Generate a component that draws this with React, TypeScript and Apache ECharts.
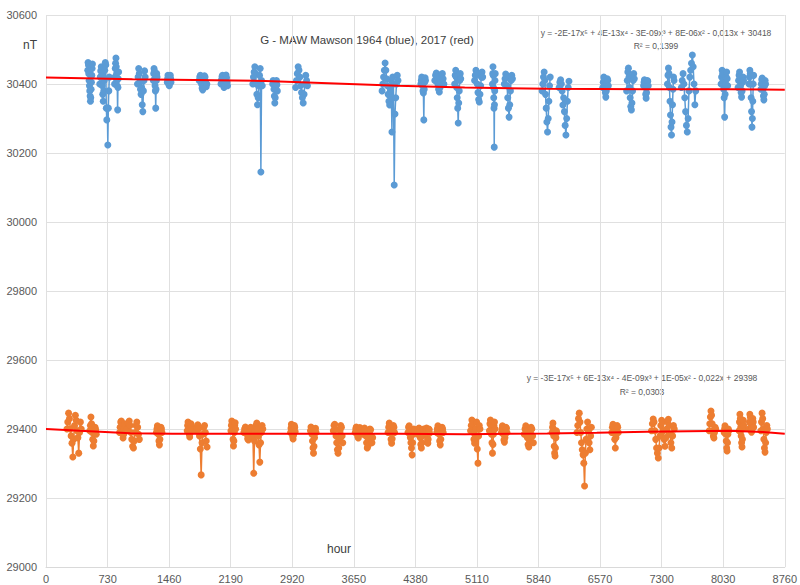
import React, { useEffect, useRef } from "react";
import * as echarts from "echarts";

// x ticks (hours) and y ticks (nT)
const xTicks = [0, 730, 1460, 2190, 2920, 3650, 4380, 5110, 5840, 6570, 7300, 8030, 8760];
const yTicks = [29000, 29200, 29400, 29600, 29800, 30000, 30200, 30400, 30600];

// Each cluster: [start hour, sampling step (hours), values in nT]
type Cluster = [number, number, number[]];

const blue1964: Cluster[] = [
  [495, 4, [30440, 30462, 30455, 30430, 30410, 30395, 30380, 30365, 30350, 30360, 30385, 30405, 30425, 30445, 30458]],
  [637, 6, [30400, 30420, 30438, 30450, 30425, 30395, 30370, 30350, 30380, 30410, 30440, 30462, 30455, 30330, 30296, 30330, 30223, 30330, 30380, 30420]],
  [813, 4, [30400, 30420, 30445, 30460, 30475, 30450, 30430, 30410, 30395, 30325, 30390, 30415, 30435]],
  [1085, 7, [30400, 30420, 30445, 30430, 30405, 30385, 30370, 30390, 30340, 30320, 30380, 30410, 30438, 30420]],
  [1273, 4, [30410, 30430, 30445, 30438, 30415, 30395, 30380, 30330, 30385, 30410, 30430, 30420]],
  [1438, 4, [30405, 30415, 30425, 30420, 30410, 30398, 30395, 30405, 30418, 30425, 30415, 30405]],
  [1816, 7, [30410, 30420, 30425, 30418, 30400, 30388, 30383, 30395, 30412, 30424, 30420, 30405, 30392, 30400]],
  [2075, 6, [30400, 30412, 30422, 30425, 30415, 30398, 30390, 30395, 30410, 30420, 30426, 30418, 30405, 30395]],
  [2452, 8, [30400, 30420, 30435, 30450, 30430, 30400, 30370, 30340, 30360, 30395, 30425, 30445, 30145, 30410, 30395]],
  [2688, 5, [30400, 30410, 30405, 30385, 30365, 30345, 30360, 30390, 30408, 30410, 30398, 30380]],
  [2960, 10, [30390, 30410, 30430, 30450, 30440, 30420, 30395, 30375, 30360, 30345, 30370, 30400, 30425, 30410, 30395]],
  [3985, 9, [30380, 30400, 30420, 30440, 30461, 30440, 30415, 30395, 30370, 30350, 30339, 30380, 30410, 30261, 30420, 30400, 30107, 30313, 30360, 30400, 30425, 30410]],
  [4445, 5, [30400, 30410, 30420, 30415, 30395, 30380, 30374, 30296, 30385, 30405, 30418, 30410]],
  [4610, 9, [30410, 30425, 30432, 30420, 30400, 30385, 30377, 30390, 30410, 30428, 30430, 30415, 30400]],
  [4846, 6, [30400, 30425, 30440, 30420, 30390, 30360, 30330, 30287, 30345, 30380, 30410, 30430, 30415]],
  [5082, 8, [30410, 30425, 30440, 30430, 30400, 30375, 30355, 30348, 30370, 30395, 30420, 30435, 30420]],
  [5294, 3, [30400, 30430, 30450, 30425, 30390, 30360, 30330, 30217, 30340, 30380, 30410, 30430]],
  [5435, 8, [30400, 30415, 30429, 30420, 30395, 30360, 30330, 30304, 30340, 30380, 30410, 30425, 30415]],
  [5883, 8, [30380, 30400, 30420, 30435, 30410, 30370, 30330, 30290, 30261, 30300, 30350, 30395, 30420]],
  [6084, 9, [30390, 30405, 30412, 30400, 30380, 30339, 30360, 30320, 30280, 30252, 30300, 30350, 30390, 30408]],
  [6602, 6, [30390, 30405, 30420, 30415, 30395, 30375, 30362, 30380, 30400, 30415, 30410, 30395]],
  [6885, 7, [30380, 30410, 30435, 30446, 30420, 30390, 30360, 30335, 30325, 30345, 30380, 30410, 30430, 30415]],
  [7086, 5, [30395, 30405, 30412, 30405, 30390, 30370, 30359, 30375, 30395, 30410, 30408, 30395]],
  [7369, 6, [30400, 30425, 30446, 30430, 30390, 30350, 30310, 30275, 30252, 30290, 30340, 30385, 30420, 30410]],
  [7534, 10, [30390, 30410, 30430, 30400, 30360, 30320, 30280, 30261, 30300, 30380, 30420, 30440, 30460, 30484, 30450, 30400, 30340, 30380]],
  [8005, 6, [30400, 30420, 30440, 30430, 30410, 30385, 30360, 30304, 30370, 30400, 30420, 30435, 30415, 30395]],
  [8206, 6, [30390, 30410, 30425, 30435, 30420, 30395, 30375, 30362, 30380, 30405, 30420, 30410]],
  [8336, 5, [30400, 30420, 30440, 30430, 30400, 30360, 30320, 30275, 30300, 30350, 30400, 30425]],
  [8477, 5, [30385, 30400, 30412, 30417, 30405, 30385, 30365, 30354, 30370, 30395, 30410, 30400]],
];

const orange2017: Cluster[] = [
  [248, 10, [29400, 29420, 29446, 29430, 29400, 29380, 29359, 29319, 29370, 29410, 29440, 29425, 29395, 29375, 29330, 29390, 29420, 29400]],
  [519, 7, [29395, 29410, 29435, 29415, 29390, 29370, 29351, 29365, 29390, 29405, 29398, 29385]],
  [872, 7, [29390, 29405, 29420, 29423, 29410, 29390, 29374, 29385, 29400, 29415, 29410, 29395]],
  [967, 10, [29400, 29415, 29423, 29410, 29390, 29370, 29350, 29345, 29365, 29390, 29410, 29420, 29405, 29385, 29370]],
  [1309, 6, [29390, 29400, 29409, 29400, 29385, 29365, 29354, 29370, 29390, 29405, 29400, 29390]],
  [1674, 5, [29395, 29410, 29420, 29415, 29400, 29385, 29377, 29388, 29402, 29415, 29410, 29398]],
  [1780, 10, [29395, 29405, 29412, 29400, 29380, 29342, 29267, 29360, 29385, 29405, 29410, 29390, 29365, 29348]],
  [2193, 5, [29395, 29410, 29423, 29415, 29395, 29370, 29351, 29365, 29390, 29410, 29418, 29400]],
  [2346, 9, [29390, 29400, 29406, 29398, 29385, 29372, 29368, 29380, 29395, 29405, 29400, 29385, 29375, 29272, 29365, 29395, 29410, 29417, 29400, 29380, 29354, 29304, 29360, 29390, 29410, 29400]],
  [2900, 5, [29390, 29402, 29414, 29408, 29392, 29378, 29371, 29382, 29398, 29410, 29405, 29392]],
  [3136, 6, [29395, 29406, 29400, 29385, 29365, 29345, 29330, 29350, 29375, 29395, 29402, 29390]],
  [3407, 8, [29395, 29410, 29414, 29400, 29380, 29360, 29340, 29330, 29345, 29370, 29395, 29410, 29405, 29380, 29360]],
  [3667, 6, [29390, 29400, 29406, 29400, 29388, 29378, 29374, 29382, 29395, 29404, 29400, 29390]],
  [3761, 8, [29385, 29395, 29403, 29398, 29380, 29360, 29345, 29350, 29370, 29390, 29400, 29398, 29380, 29360, 29375]],
  [4056, 7, [29390, 29405, 29417, 29408, 29390, 29370, 29359, 29372, 29395, 29410, 29405, 29390]],
  [4292, 7, [29390, 29405, 29409, 29395, 29375, 29360, 29345, 29325, 29360, 29385, 29400, 29395]],
  [4409, 7, [29385, 29395, 29403, 29395, 29375, 29355, 29345, 29360, 29380, 29398, 29400, 29390]],
  [4504, 4, [29385, 29395, 29403, 29398, 29385, 29368, 29359, 29370, 29388, 29400, 29398, 29388]],
  [4633, 7, [29390, 29400, 29409, 29400, 29385, 29365, 29354, 29370, 29390, 29405, 29400, 29390]],
  [5034, 8, [29395, 29410, 29426, 29415, 29390, 29370, 29359, 29375, 29400, 29420, 29342, 29301, 29380, 29410, 29400]],
  [5258, 6, [29395, 29415, 29426, 29410, 29385, 29360, 29330, 29355, 29385, 29410, 29420, 29400]],
  [5400, 6, [29390, 29400, 29409, 29400, 29385, 29368, 29362, 29375, 29392, 29405, 29402, 29390]],
  [5671, 9, [29385, 29400, 29409, 29395, 29375, 29355, 29348, 29365, 29390, 29405, 29400, 29380, 29360]],
  [6001, 5, [29390, 29405, 29417, 29400, 29380, 29350, 29330, 29322, 29345, 29375, 29395, 29390]],
  [6296, 9, [29390, 29410, 29430, 29446, 29420, 29390, 29360, 29340, 29325, 29301, 29235, 29330, 29370, 29400, 29420, 29395, 29360, 29340, 29380, 29405]],
  [6709, 7, [29390, 29405, 29414, 29405, 29390, 29370, 29345, 29375, 29395, 29410, 29405, 29390]],
  [7180, 10, [29395, 29415, 29429, 29420, 29395, 29370, 29345, 29330, 29316, 29345, 29380, 29410, 29425, 29420, 29395, 29370, 29350, 29375, 29400, 29420, 29428, 29410, 29385, 29360, 29345, 29380, 29410, 29400]],
  [7864, 7, [29395, 29415, 29435, 29452, 29440, 29415, 29395, 29380, 29374, 29390, 29405, 29400]],
  [8041, 5, [29390, 29400, 29409, 29400, 29385, 29365, 29345, 29336, 29360, 29385, 29400, 29395]],
  [8218, 5, [29395, 29420, 29443, 29430, 29405, 29380, 29360, 29348, 29370, 29400, 29425, 29410]],
  [8336, 5, [29400, 29420, 29443, 29435, 29415, 29400, 29391, 29398, 29415, 29430, 29420, 29405]],
  [8477, 7, [29395, 29420, 29446, 29430, 29400, 29370, 29345, 29333, 29360, 29390, 29410, 29400]],
];

// Trend lines: [hour, nT]
const blueTrend: [number, number][] = [
  [0, 30419], [1026, 30414], [2606, 30409], [4175, 30395], [4965, 30390],
  [5943, 30386], [7123, 30385], [8101, 30385], [8760, 30383],
];
const orangeTrend: [number, number][] = [
  [0, 29400], [400, 29395], [1000, 29388], [1500, 29386], [2606, 29386], [4175, 29386],
  [4965, 29385], [5943, 29387], [6531, 29389], [7123, 29392], [8101, 29395],
  [8500, 29391], [8760, 29386],
];

const blueEq = "y = -2E-17x\u2075 + 4E-13x\u2074 - 3E-09x\u00b3 + 8E-06x\u00b2 - 0,013x + 30418";
const blueR2 = "R\u00b2 = 0,1399";
const orangeEq = "y = -3E-17x\u2075 + 6E-13x\u2074 - 4E-09x\u00b3 + 1E-05x\u00b2 - 0,022x + 29398";
const orangeR2 = "R\u00b2 = 0,0303";
const titleText = "G - MAW Mawson 1964 (blue), 2017 (red)";

function toLineData(clusters: Cluster[]) {
  const out: any[] = [];
  clusters.forEach(([start, step, vals]) => {
    vals.forEach((v, i) => out.push([start + i * step, v]));
    out.push([start + vals.length * step, "-"]);
  });
  return out;
}

const FONT = "'Liberation Sans', Arial, sans-serif";

export default function App() {
  const ref = useRef<HTMLDivElement>(null);
  useEffect(() => {
    if (!ref.current) return;
    const chart = echarts.init(ref.current, undefined, { renderer: "svg" });
    const grey = "#595959";
    chart.setOption({
      animation: false,
      backgroundColor: "#ffffff",
      grid: { left: 46, right: 11, top: 15, bottom: 18, containLabel: false },
      xAxis: {
        type: "value",
        min: xTicks[0],
        max: xTicks[xTicks.length - 1],
        interval: 730,
        axisLine: { show: true, lineStyle: { color: "#D9D9D9" } },
        axisTick: { show: false },
        axisLabel: { color: grey, fontSize: 11, fontFamily: FONT, margin: 6, formatter: (v: number) => String(v) },
        splitLine: { show: true, lineStyle: { color: "#E0E0E0", width: 1 } },
      },
      yAxis: {
        type: "value",
        min: yTicks[0],
        max: yTicks[yTicks.length - 1],
        interval: 200,
        axisLine: { show: false },
        axisTick: { show: false },
        axisLabel: { color: grey, fontSize: 11, fontFamily: FONT, margin: 9, formatter: (v: number) => String(v) },
        splitLine: { show: true, lineStyle: { color: "#E0E0E0", width: 1 } },
      },
      series: [
        {
          type: "line",
          data: toLineData(blue1964),
          symbol: "circle",
          symbolSize: 7,
          showSymbol: true,
          connectNulls: false,
          lineStyle: { color: "#5B9BD5", width: 1.5 },
          itemStyle: { color: "#5B9BD5" },
          z: 2,
        },
        {
          type: "line",
          data: toLineData(orange2017),
          symbol: "circle",
          symbolSize: 7,
          showSymbol: true,
          connectNulls: false,
          lineStyle: { color: "#ED7D31", width: 1.5 },
          itemStyle: { color: "#ED7D31" },
          z: 2,
        },
        {
          type: "line",
          data: blueTrend,
          symbol: "none",
          lineStyle: { color: "#FF0000", width: 2 },
          z: 3,
        },
        {
          type: "line",
          data: orangeTrend,
          symbol: "none",
          lineStyle: { color: "#FF0000", width: 2 },
          z: 3,
        },
      ],
      graphic: [
        { type: "text", x: 367, y: 40, style: { text: titleText, fill: "#404040", font: `11.5px ${FONT}`, align: "center", verticalAlign: "middle" } },
        { type: "text", x: 30, y: 45, style: { text: "nT", fill: "#404040", font: `12px ${FONT}`, align: "center", verticalAlign: "middle" } },
        { type: "text", x: 339, y: 549, style: { text: "hour", fill: "#404040", font: `12px ${FONT}`, align: "center", verticalAlign: "middle" } },
        { type: "text", x: 656, y: 33, style: { text: blueEq, fill: grey, font: `8.5px ${FONT}`, align: "center", verticalAlign: "middle" } },
        { type: "text", x: 656, y: 46, style: { text: blueR2, fill: grey, font: `8.5px ${FONT}`, align: "center", verticalAlign: "middle" } },
        { type: "text", x: 642, y: 378, style: { text: orangeEq, fill: grey, font: `8.5px ${FONT}`, align: "center", verticalAlign: "middle" } },
        { type: "text", x: 642, y: 392, style: { text: orangeR2, fill: grey, font: `8.5px ${FONT}`, align: "center", verticalAlign: "middle" } },
      ],
    });
    return () => chart.dispose();
  }, []);
  return (
    <div
      ref={ref}
      style={{ position: "fixed", left: 0, top: 0, width: 800, height: 585, background: "#fff" }}
    />
  );
}
